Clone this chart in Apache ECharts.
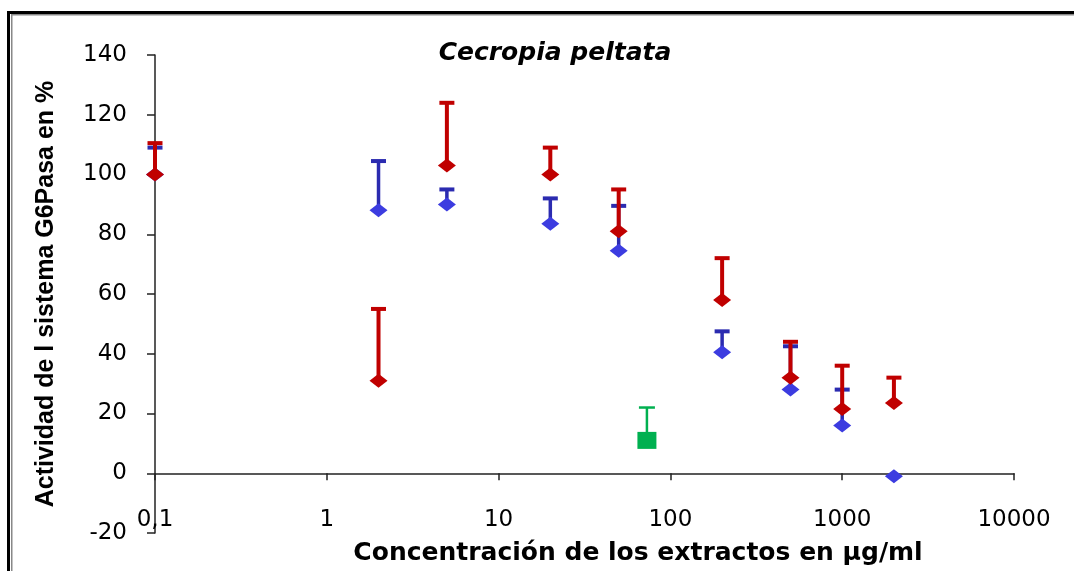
<!DOCTYPE html>
<html>
<head>
<meta charset="utf-8">
<script src="https://cdn.jsdelivr.net/npm/echarts@6/dist/echarts.min.js"></script>
<style>
html,body{margin:0;padding:0;background:#fff;}
#chart{width:1074px;height:571px;}
</style>
</head>
<body>
<div id="chart"></div>
<script>
// ---- data ----
var concentrations = [0.1, 2, 5, 20, 50, 200, 500, 1000, 2000];
var redMeans  = [100, 31, 103, 100, 81, 58, 32, 21.5, 23.5];
var redErrors = [10.5, 24, 21, 9, 14, 14, 12, 14.5, 8.5];
var blueMeans  = [100, 88, 90, 83.5, 74.5, 40.5, 28, 16, -1];
var blueErrors = [9, 16.5, 5, 8.5, 15, 7, 14.5, 12, 0];
var greenConc = [73];
var greenMeans = [11];
var greenErrors = [11];
var xTickLabels = {'-1': '0,1', '0': '1', '1': '10', '2': '100', '3': '1000', '4': '10000'};
var yTicks = [-20, 0, 20, 40, 60, 80, 100, 120, 140];

var titleText = 'Cecropia peltata';
var xTitle = 'Concentración de los extractos en µg/ml';
var yTitle = 'Actividad de l sistema G6Pasa en %';

function pts(xs, ys) { return xs.map(function (x, i) { return [x, ys[i]]; }); }
function errPts(xs, ys, es) { return xs.map(function (x, i) { return [x, ys[i], ys[i] + es[i]]; }); }

function errRenderer(color, lw, capW, capLw) {
  return function (params, api) {
    var x = api.value(0), y = api.value(1), top = api.value(2);
    if (top <= y) return null;
    var p0 = api.coord([x, y]);
    var p1 = api.coord([x, top]);
    return {
      type: 'group',
      children: [
        { type: 'line', shape: { x1: p0[0], y1: p0[1], x2: p1[0], y2: p1[1] },
          style: { stroke: color, lineWidth: lw } },
        { type: 'line', shape: { x1: p1[0] - capW / 2, y1: p1[1], x2: p1[0] + capW / 2, y2: p1[1] },
          style: { stroke: color, lineWidth: capLw } }
      ]
    };
  };
}

var chart = echarts.init(document.getElementById('chart'));
var tickFont = 'DejaVu Sans';
var logFormatter = function (v) {
  var e = Math.round(Math.log(v) / Math.LN10);
  return xTickLabels[String(e)] || '';
};
chart.setOption({
  backgroundColor: '#fff',
  animation: false,
  title: [
    { text: titleText, left: 550, top: 36, textAlign: 'center',
      textStyle: { fontFamily: 'DejaVu Sans', fontStyle: 'italic', fontWeight: 'bold', fontSize: 25, color: '#000' } },
    { text: xTitle, left: 633, top: 536, textAlign: 'center',
      textStyle: { fontFamily: 'DejaVu Sans', fontWeight: 'bold', fontSize: 25, color: '#000' } }
  ],
  grid: { left: 155, right: 60, top: 55, bottom: 38, containLabel: false, outerBoundsMode: 'none' },
  xAxis: [{
    type: 'log', logBase: 10, min: 0.1, max: 10000,
    axisLine: { onZero: true, lineStyle: { color: '#222', width: 1.5 } },
    axisTick: { show: true, length: 7, lineStyle: { color: '#222', width: 1.5 } },
    minorTick: { show: false },
    splitLine: { show: false },
    axisLabel: { show: false }
  }, {
    type: 'log', logBase: 10, min: 0.1, max: 10000, position: 'bottom', offset: -28,
    axisLine: { show: false, onZero: false },
    axisTick: { show: false },
    minorTick: { show: false },
    splitLine: { show: false },
    axisLabel: { margin: 4, fontFamily: tickFont, fontSize: 23, color: '#000', formatter: logFormatter }
  }],
  yAxis: {
    type: 'value', min: yTicks[0], max: yTicks[yTicks.length - 1], interval: 20,
    name: yTitle, nameLocation: 'middle', nameRotate: 90, nameGap: 96,
    nameTextStyle: { fontFamily: 'Liberation Sans', fontWeight: 'bold', fontSize: 25, color: '#000' },
    axisLine: { show: true, onZero: false, lineStyle: { color: '#222', width: 1.5 } },
    axisTick: { show: true, length: 8, lineStyle: { color: '#222', width: 1.5 } },
    splitLine: { show: false },
    axisLabel: { margin: 28, fontFamily: tickFont, fontSize: 23, color: '#000' }
  },
  graphic: [
    { type: 'rect', shape: { x: 7, y: 11, width: 3, height: 560 }, style: { fill: '#000' } },
    { type: 'rect', shape: { x: 11, y: 14, width: 1.5, height: 557 }, style: { fill: '#888' } },
    { type: 'rect', shape: { x: 7, y: 11, width: 1067, height: 3 }, style: { fill: '#000' } },
    { type: 'rect', shape: { x: 11, y: 14, width: 1063, height: 1.5 }, style: { fill: '#888' } }
  ],
  series: [
    { name: 'blueErr', type: 'custom', renderItem: errRenderer('#2b2bb0', 3.5, 15, 4),
      data: errPts(concentrations, blueMeans, blueErrors), encode: { x: 0, y: [1, 2] }, z: 2 },
    { name: 'blue', type: 'scatter', symbol: 'diamond', symbolSize: [18, 14],
      itemStyle: { color: '#3c3ce0', opacity: 1 }, data: pts(concentrations, blueMeans), z: 3 },
    { name: 'redErr', type: 'custom', renderItem: errRenderer('#c00000', 4, 15, 4),
      data: errPts(concentrations, redMeans, redErrors), encode: { x: 0, y: [1, 2] }, z: 4 },
    { name: 'red', type: 'scatter', symbol: 'diamond', symbolSize: [18, 14],
      itemStyle: { color: '#c00000', opacity: 1 }, data: pts(concentrations, redMeans), z: 5 },
    { name: 'greenErr', type: 'custom', renderItem: errRenderer('#00b050', 2.5, 16, 2.5),
      data: errPts(greenConc, greenMeans, greenErrors), encode: { x: 0, y: [1, 2] }, z: 6 },
    { name: 'green', type: 'scatter', symbol: 'rect', symbolSize: [19, 17],
      itemStyle: { color: '#00b050', opacity: 1 }, data: pts(greenConc, greenMeans), z: 7 }
  ]
});
</script>
</body>
</html>
